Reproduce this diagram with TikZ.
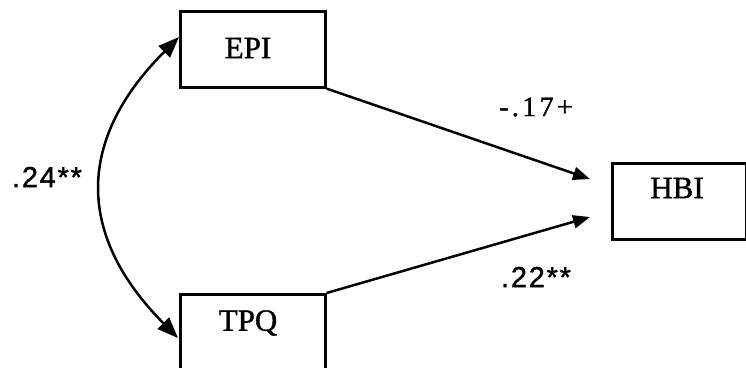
\documentclass[tikz,border=0pt]{standalone}
\usepackage{fontspec}
\setmainfont{Liberation Serif}[FakeBold=1.2]
\newfontfamily\labelsans{Liberation Sans}[LetterSpace=6,FakeBold=1.2]
\newfontfamily\labelserif{Liberation Serif}[LetterSpace=12,FakeBold=1.2]
\usetikzlibrary{arrows.meta}
\begin{document}
\begin{tikzpicture}[x=1pt,y=-1pt,
  varbox/.style={draw,line width=2.6pt,inner sep=0pt,anchor=north west},
  vartext/.style={font=\fontsize{31}{31}\selectfont,inner sep=0pt},
  coefserif/.style={inner sep=0pt,font=\labelserif\fontsize{28}{28}\selectfont},
  coefsans/.style={inner sep=0pt,font=\labelsans\fontsize{29}{29}\selectfont},
  regpath/.style={line width=2.5pt,-{Triangle[length=17pt,width=13pt]}},
  covar/.style={line width=2.5pt,{Triangle[length=21pt,width=16pt]}-{Triangle[length=21pt,width=16pt]}}]
\useasboundingbox (0,0) rectangle (746,367);

% variable boxes
\node[varbox,minimum width=145pt,minimum height=76pt] (EPI) at (179,10) {};
\node[varbox,minimum width=145pt,minimum height=90pt] (TPQ) at (179,293) {};
\node[varbox,minimum width=134pt,minimum height=76pt] (HBI) at (611,162) {};

\node[vartext] (tEPI) at (248,48) {EPI};
\node[vartext] (tTPQ) at (248,323) {TPQ};
\node[vartext] (tHBI) at (677,188) {HBI};

% arrow ends
\coordinate (eEPI) at (590,179);
\coordinate (eTPQ) at (590,217);
\coordinate (cTop) at (179,37);
\coordinate (cBot) at (178,338);

% paths
\draw[regpath] (EPI.south east) -- (eEPI);
\draw[regpath] (TPQ.north east) -- (eTPQ);
\draw[covar] (cTop) .. controls (76,140) and (76,235) .. (cBot);

% coefficients
\node[coefserif] (b1) at (536,107) {-.17+};
\node[coefsans] (b2) at (536,277) {.22**};
\node[coefsans] (r1) at (47,177) {.24**};
\end{tikzpicture}
\end{document}
